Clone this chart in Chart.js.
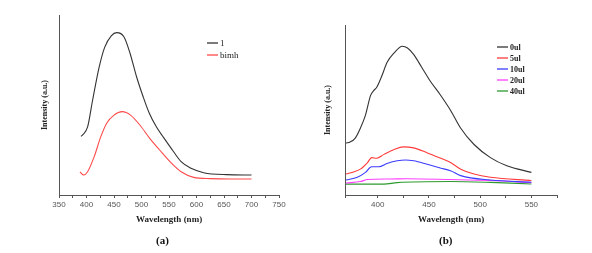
<!DOCTYPE html>
<html>
<head>
<meta charset="utf-8">
<script src="https://cdn.jsdelivr.net/npm/chart.js@4"></script>
<style>
  body { margin: 0; background: #fff; }
  #wrap { position: relative; width: 592px; height: 253px; overflow: hidden; }
  canvas { position: absolute; top: 0; }
  .cap { position: absolute; top: 234px; font: bold 11px "Liberation Serif", serif; color: #111; }
</style>
</head>
<body>
<div id="wrap">
  <canvas id="chartA" width="300" height="253" style="left:0"></canvas>
  <canvas id="chartB" width="292" height="253" style="left:300px"></canvas>
  <div class="cap" style="left:156px">(a)</div>
  <div class="cap" style="left:439px">(b)</div>
</div>
<script>
// panel (a): wavelength (nm) / intensity (a.u.)
var wlA1 = [390, 393, 402, 411, 423, 433, 445, 455, 468, 479, 491, 503, 514, 527, 540, 555, 572, 590, 613, 655, 700];
var sample1 = [32.6, 33.4, 37.8, 52.5, 71, 82, 88.4, 90.2, 87.9, 78.9, 65.7, 54.6, 45.6, 37.9, 32, 25.5, 18.5, 14.8, 12.4, 11.3, 11.1];
var wlA2 = [388, 392, 395, 402, 414, 426, 437, 450, 465, 480, 497, 515, 533, 554, 572, 595, 625, 660, 700];
var bimh = [12.8, 11.6, 11.1, 12.9, 21.3, 32.4, 40, 44.4, 46.3, 44.4, 38.9, 31.5, 25, 17.8, 12.9, 9.8, 9.1, 8.9, 8.9];

// panel (b)
var wlB0 = [369, 373, 378, 383, 388, 393, 396, 399, 404, 409, 416, 424, 429, 435, 443, 451, 461, 471, 481, 494, 510, 526, 550];
var ul0 = [30.6, 31.2, 33.5, 39.3, 47, 58.6, 61.4, 63.4, 70.1, 77.9, 83.6, 87.5, 86.5, 82.7, 75, 67.2, 59, 49.9, 39.3, 29.7, 22, 17.2, 13.3];
var wlB5 = [369, 377, 383, 390, 394, 399, 406, 416, 425, 435, 448, 461, 471, 481, 494, 510, 550];
var ul5 = [12.3, 13.7, 15.2, 19.1, 22, 21.6, 23.9, 26.8, 28.3, 27.7, 24.9, 21.7, 19.1, 15.2, 12.3, 10.4, 8.5];
var wlB10 = [369, 380, 388, 394, 401, 409, 419, 427, 435, 448, 461, 471, 481, 510, 550];
var ul10 = [8.8, 10.4, 13.3, 16.6, 16.6, 18.5, 20.1, 20.6, 20.1, 18.1, 15.9, 14.3, 11.4, 8.8, 7.5];
var wlB20 = [369, 383, 390, 412, 429, 471, 510, 550];
var ul20 = [7.1, 7.9, 9.1, 9.4, 9.6, 9.1, 8.5, 7.3];
var wlB40 = [369, 406, 419, 471, 510, 550];
var ul40 = [6.4, 6.4, 7.3, 7.9, 7.4, 6.5];

function pts(xs, ys) {
  return xs.map(function (x, i) { return { x: x, y: ys[i] }; });
}

function line(label, xs, ys, color) {
  return { label: label, data: pts(xs, ys), borderColor: color, borderWidth: 1.1, pointRadius: 0,
           cubicInterpolationMode: 'monotone', fill: false };
}

// legend drawn at a fixed place inside the plot, Origin style
var sideLegend = {
  id: 'sideLegend',
  afterDraw: function (chart) {
    var o = chart.options.plugins.sideLegend;
    var ctx = chart.ctx;
    ctx.save();
    ctx.font = o.font;
    ctx.textBaseline = 'middle';
    chart.data.datasets.forEach(function (ds, i) {
      var y = o.y + i * o.gap;
      ctx.strokeStyle = ds.borderColor;
      ctx.lineWidth = 1.3;
      ctx.beginPath();
      ctx.moveTo(o.x, y);
      ctx.lineTo(o.x + o.len, y);
      ctx.stroke();
      ctx.fillStyle = '#222';
      ctx.fillText(ds.label, o.x + o.len + 2, y + 0.5);
    });
    ctx.restore();
  }
};

function opts(xmin, xmax, pad, yw, titleOff, legend) {
  return {
    responsive: false,
    animation: false,
    layout: { padding: pad },
    plugins: { legend: { display: false }, tooltip: { enabled: false }, sideLegend: legend },
    scales: {
      x: {
        type: 'linear', min: xmin, max: xmax,
        afterFit: function (s) { s.height = 58; },
        ticks: {
          stepSize: 25, autoSkip: false, maxRotation: 0, padding: 2, color: '#555',
          font: { family: 'Liberation Sans', size: 8 },
          callback: function (v) { return v % 50 === 0 ? v : ''; }
        },
        grid: { drawOnChartArea: false, tickLength: 3, color: '#555' },
        border: { color: '#555', width: 1 },
        title: { display: true, text: 'Wavelength (nm)', color: '#222', padding: { top: 0, bottom: 28 },
                 font: { family: 'Liberation Serif', size: 9, weight: 'bold' } }
      },
      y: {
        min: 0, max: 100,
        afterFit: function (s) { s.width = yw; },
        ticks: { display: false },
        grid: { display: false },
        border: { color: '#555', width: 1 },
        title: { display: true, text: 'Intensity (a.u.)', color: '#222', padding: { top: titleOff, bottom: 0 },
                 font: { family: 'Liberation Serif', size: 8, weight: 'bold' } }
      }
    }
  };
}

new Chart(document.getElementById('chartA').getContext('2d'), {
  type: 'line',
  data: { datasets: [line('1', wlA1, sample1, '#333333'), line('bimh', wlA2, bimh, '#ff4a4a')] },
  options: opts(350, 750, { left: 0, top: 15, right: 21, bottom: 0 }, 59, 40,
    { x: 207, y: 43, gap: 12, len: 11, font: '9px "Liberation Serif"' }),
  plugins: [sideLegend]
});

new Chart(document.getElementById('chartB').getContext('2d'), {
  type: 'line',
  data: {
    datasets: [
      line('0ul', wlB0, ul0, '#333333'),
      line('5ul', wlB5, ul5, '#ff3b3b'),
      line('10ul', wlB10, ul10, '#3b3bff'),
      line('20ul', wlB20, ul20, '#ff40ff'),
      line('40ul', wlB40, ul40, '#2e9a2e')
    ]
  },
  options: opts(368, 575, { left: 0, top: 25, right: 35, bottom: 0 }, 45, 23,
    { x: 197, y: 47, gap: 11, len: 11, font: 'bold 8px "Liberation Serif"' }),
  plugins: [sideLegend]
});
</script>
</body>
</html>
